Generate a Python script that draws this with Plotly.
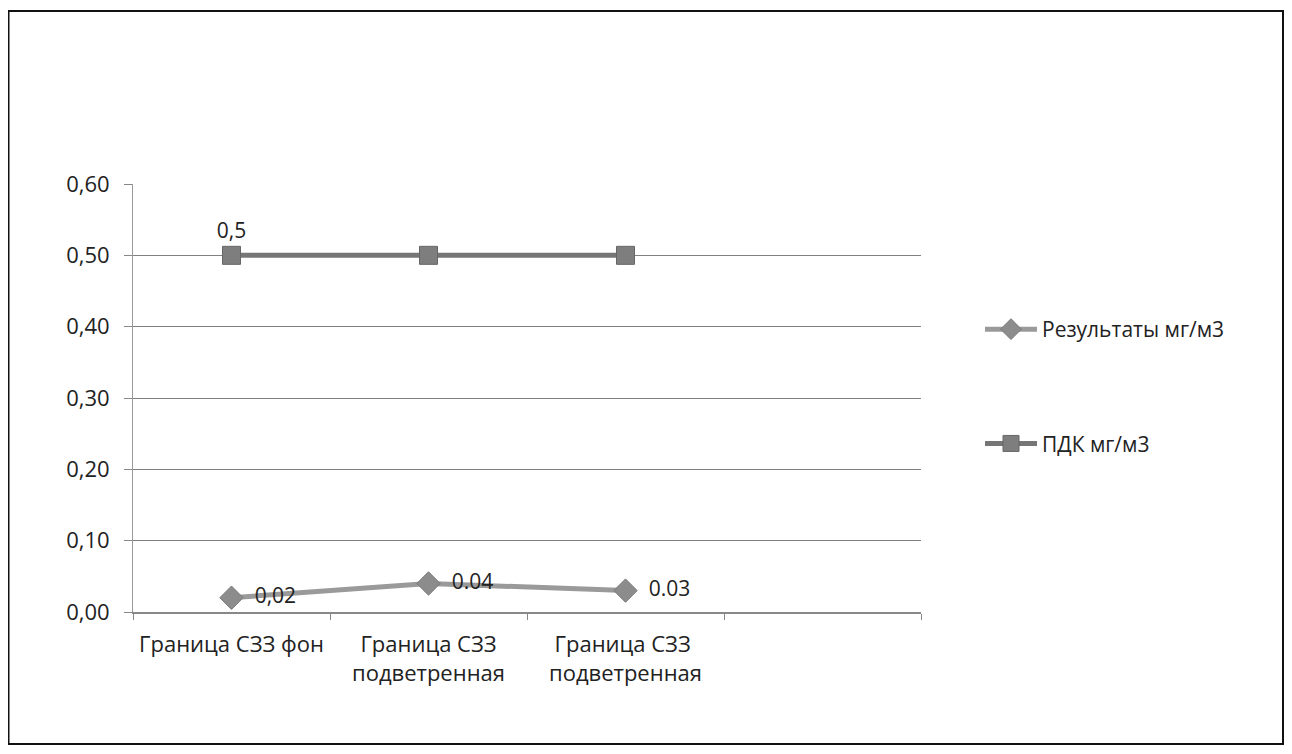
import plotly.graph_objects as go

categories = ["Граница СЗЗ фон", "Граница СЗЗ<br>подветренная", "Граница СЗЗ <br>подветренная", " "]
results = [0.02, 0.04, 0.03]
results_labels = ["0,02", "0.04", "0.03"]
pdk = [0.5, 0.5, 0.5]
pdk_labels = ["0,5", "", ""]
series_names = ["Результаты мг/м3", "ПДК мг/м3"]

FONT = "Open Sans"
FS = 22
NB = "\u00a0\u00a0"

fig = go.Figure()
fig.add_trace(go.Scatter(
    x=categories[:3], y=results, name=series_names[0], mode="lines+markers+text",
    line=dict(color="#9a9a9a", width=5),
    marker=dict(symbol="diamond", size=18, color="#8c8c8c", line=dict(color="#7a7a7a", width=1)),
    text=[NB + t for t in results_labels], textposition="middle right",
    textfont=dict(family=FONT, size=FS - 1, color="#222"),
    legendgroup="a", cliponaxis=False,
))
fig.add_trace(go.Scatter(
    x=categories[:3], y=pdk, name=series_names[1], mode="lines+markers+text",
    line=dict(color="#767676", width=5),
    marker=dict(symbol="square", size=18, color="#7e7e7e", line=dict(color="#666", width=1)),
    text=pdk_labels, textposition="top center",
    textfont=dict(family=FONT, size=FS - 1, color="#222"),
    legendgroup="b", cliponaxis=False,
))

OFF = 8  # page body margin
W, H = 1276, 738
L, T = 133 - OFF, 184 - OFF
R = W - (921 - OFF)
B = H - (612 - OFF)
pw, ph = W - L - R, H - T - B

def px(s):
    return (s - OFF - L) / pw

def py(s):
    return (H - B - (s - OFF)) / ph

fig.add_shape(type="rect", xref="paper", yref="paper",
              x0=px(8.5), x1=px(1283), y0=py(744), y1=py(11),
              line=dict(color="#111", width=2), fillcolor="rgba(0,0,0,0)", layer="below")

fig.update_layout(
    width=W, height=H,
    margin=dict(l=L, r=R, t=T, b=B),
    paper_bgcolor="white", plot_bgcolor="white",
    separators=",.",
    font=dict(family=FONT, size=FS, color="#222"),
    showlegend=True,
    legend=dict(x=px(980), y=py(309), xanchor="left", yanchor="top",
                traceorder="grouped", tracegroupgap=84,
                font=dict(family=FONT, size=FS - 1, color="#222"),
                bgcolor="rgba(0,0,0,0)", itemwidth=52),
    xaxis=dict(type="category", categoryorder="array", categoryarray=categories,
               range=[-0.5, 3.5], tickson="boundaries", ticks="outside", ticklen=6,
               tickcolor="#888", showgrid=False, showline=True, linecolor="#888",
               linewidth=1.5, ticklabelstandoff=12,
               tickfont=dict(family=FONT, size=FS, color="#222")),
    yaxis=dict(range=[0, 0.6], dtick=0.1, tickformat=".2f", ticks="outside", ticklen=8,
               tickcolor="#888", showgrid=True, gridcolor="#808080", gridwidth=1,
               showline=True, linecolor="#999", zeroline=False, ticklabelstandoff=10,
               tickfont=dict(family=FONT, size=FS, color="#222")),
)

fig.write_html("out.html")
